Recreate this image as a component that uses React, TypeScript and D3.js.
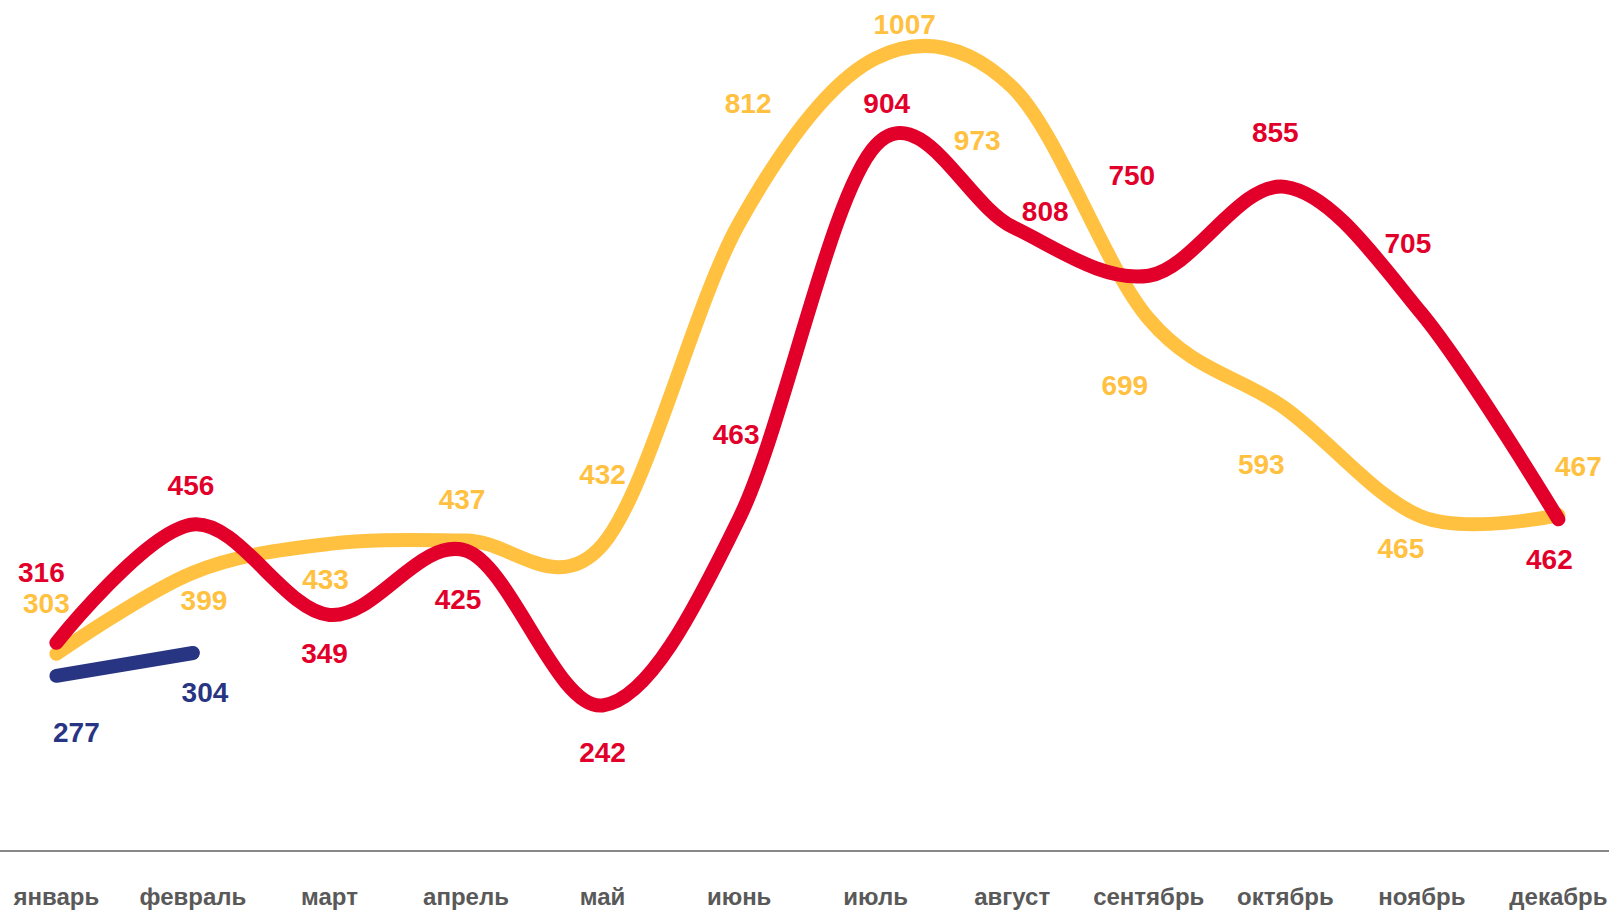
import React from "react";
import { scalePoint, scaleLinear, line, curveCardinal } from "d3";

const months = [
  "январь", "февраль", "март", "апрель", "май", "июнь",
  "июль", "август", "сентябрь", "октябрь", "ноябрь", "декабрь",
];

// three years, the newest one only has two months so far
const redValues = [316, 456, 349, 425, 242, 463, 904, 808, 750, 855, 705, 462];
const yellowValues = [303, 399, 433, 437, 432, 812, 1007, 973, 699, 593, 465, 467];
const blueValues = [277, 304];

// label nudges around each point (dx, dy)
const redLabelShift = [
  [-15, -70], [-2, -39], [-5, 39], [-8, 49], [0, 47], [-3, -84],
  [11, -42], [33, -15], [-17, -100], [-10, -54], [-14, -70], [-9, 40],
];
const yellowLabelShift = [
  [-10, -50], [11, 28], [-4, 36], [-4, -41], [0, -70], [9, -120],
  [29, -34], [-35, 53], [-24, 67], [-24, 56], [-21, 32], [20, -49],
];
const blueLabelShift = [[20, 57], [12, 39]];

const W = 1609;
const H = 910;

const RED = "#E2002B";
const YELLOW = "#FFC13F";
const BLUE = "#283583";

const App: React.FC = () => {
  const x = scalePoint<string>().domain(months).range([56.4, 1558.4]);
  const y = scaleLinear().domain([0, 1000]).range([910.2, 64.2]);
  const axisY = y(70);

  const path = line<number>()
    .x((d, i) => x(months[i]) as number)
    .y((d) => y(d))
    .curve(curveCardinal.tension(0));

  const series = [
    { values: yellowValues, color: YELLOW, shift: yellowLabelShift },
    { values: redValues, color: RED, shift: redLabelShift },
    { values: blueValues, color: BLUE, shift: blueLabelShift },
  ];

  return (
    <div style={{ position: "fixed", left: 0, top: 0, background: "#fff" }}>
      <svg width={W} height={H} style={{ display: "block" }}>
        <line x1={0} x2={W} y1={axisY} y2={axisY} stroke="#888" strokeWidth={2} />
        {series.map((s, k) => (
          <path
            key={`line${k}`}
            d={path(s.values) || ""}
            fill="none"
            stroke={s.color}
            strokeWidth={14}
            strokeLinecap="round"
            strokeLinejoin="round"
          />
        ))}
        {series.map((s, k) =>
          s.values.map((v, i) => (
            <text
              key={`lab${k}-${i}`}
              x={(x(months[i]) as number) + s.shift[i][0]}
              y={y(v) + s.shift[i][1]}
              textAnchor="middle"
              dominantBaseline="central"
              fill={s.color}
              fontFamily="Liberation Sans, Arial, sans-serif"
              fontWeight="bold"
              fontSize={28}
            >
              {v}
            </text>
          ))
        )}
        {months.map((m) => (
          <text
            key={m}
            x={x(m)}
            y={905}
            textAnchor="middle"
            fill="#595959"
            fontFamily="Liberation Sans, Arial, sans-serif"
            fontWeight="bold"
            fontSize={24}
          >
            {m}
          </text>
        ))}
      </svg>
    </div>
  );
};

export default App;
